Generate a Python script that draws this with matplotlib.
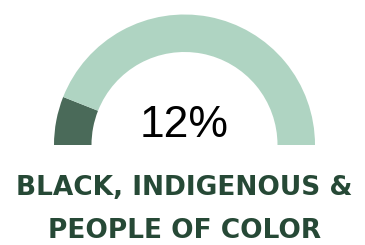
import matplotlib.pyplot as plt

share = 12
rest = 100 - share
label_lines = ["BLACK, INDIGENOUS &", "PEOPLE OF COLOR"]

dark = "#4a6a59"
light = "#afd4c2"
text_green = "#264936"

fig = plt.figure(figsize=(3.65, 2.45), dpi=100)
ax = fig.add_axes([0, 0, 1, 1])

# half donut: the hidden third slice is the lower half
ax.pie([share, rest, 100], colors=[dark, light, "none"], startangle=180,
       counterclock=False, radius=130.5, center=(184.5, 100),
       wedgeprops=dict(width=37.5, linewidth=0))

ax.text(184.5, 108, f"{share}%", ha="center", va="baseline",
        fontsize=32, family="Liberation Sans", color="black")

ax.text(184.5, 50, label_lines[0], ha="center", va="baseline",
        fontsize=19, fontweight="bold", family="DejaVu Sans", color=text_green)
ax.text(184.5, 1, label_lines[1], ha="center", va="bottom",
        fontsize=19, fontweight="bold", family="DejaVu Sans", color=text_green)

ax.set_xlim(0, 365)
ax.set_ylim(0, 245)
ax.set_aspect("auto")
ax.axis("off")

fig.savefig("out.png", dpi=100)
